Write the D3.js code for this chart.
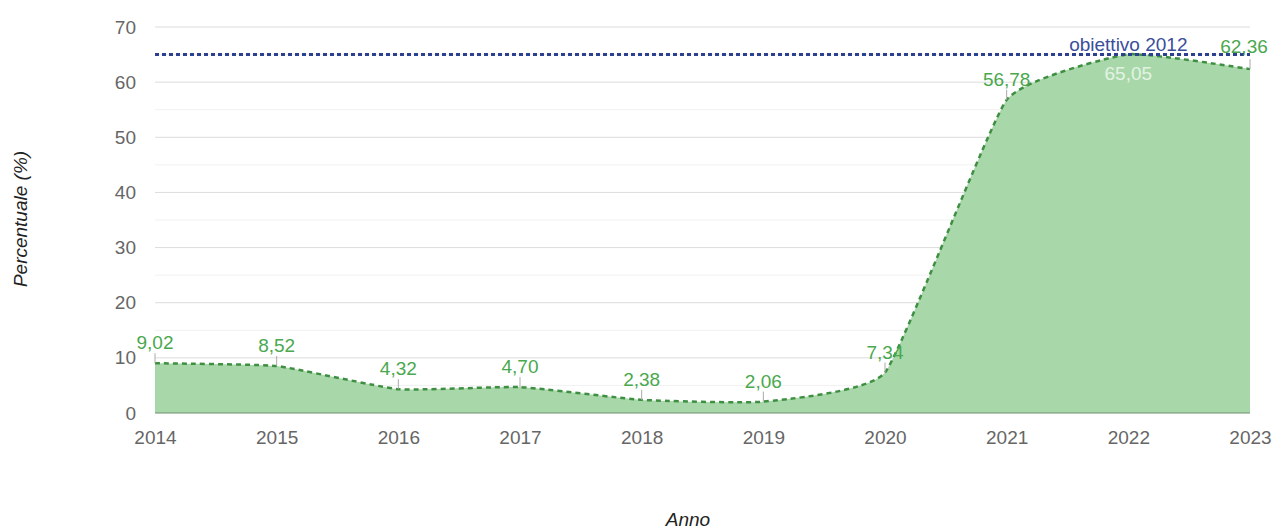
<!DOCTYPE html>
<html>
<head>
<meta charset="utf-8">
<script src="https://cdn.jsdelivr.net/npm/d3@7"></script>
<style>
  body { margin: 0; background: #fff; }
  svg { display: block; font-family: Arial, "Liberation Sans", sans-serif; }
</style>
</head>
<body>
<svg class="chart" width="1276" height="529"></svg>
<script>
// dati
var anni = [2014, 2015, 2016, 2017, 2018, 2019, 2020, 2021, 2022, 2023];
var percentuali = [9.02, 8.52, 4.32, 4.70, 2.38, 2.06, 7.34, 56.78, 65.05, 62.36];
var yTicks = [0, 10, 20, 30, 40, 50, 60, 70];
var obiettivo = 65;
var obiettivoLabel = "obiettivo 2012";

var svg = d3.select(".chart");

var plotLeft = 155, plotRight = 1250, plotTop = 27, plotBottom = 413;
var fontSize = "19px";

var x = d3.scaleLinear().domain([2014, 2023]).range([plotLeft, plotRight]);
var y = d3.scaleLinear().domain([0, 70]).range([plotBottom, plotTop]);

var fmt = function (v) { return v.toFixed(2).replace(".", ","); };

// griglia minore
svg.append("g")
    .selectAll("line")
    .data(d3.range(5, 70, 10))
    .join("line")
    .attr("x1", plotLeft).attr("x2", plotRight)
    .attr("y1", function (d) { return y(d); })
    .attr("y2", function (d) { return y(d); })
    .attr("stroke", "#f1f1f1")
    .attr("stroke-width", 1);

// griglia principale
svg.append("g")
    .selectAll("line")
    .data(yTicks.slice(1))
    .join("line")
    .attr("x1", plotLeft).attr("x2", plotRight)
    .attr("y1", function (d) { return y(d); })
    .attr("y2", function (d) { return y(d); })
    .attr("stroke", "#dcdcdc")
    .attr("stroke-width", 1);

// asse y
var yAxis = svg.append("g")
    .attr("transform", "translate(" + plotLeft + ",0)")
    .call(d3.axisLeft(y).tickValues(yTicks).tickSize(0).tickPadding(19));
yAxis.select(".domain").remove();
yAxis.selectAll("text")
    .attr("font-size", fontSize)
    .attr("font-family", "Arial, 'Liberation Sans', sans-serif")
    .attr("fill", "#666");

// asse x
var xAxis = svg.append("g")
    .attr("transform", "translate(0," + plotBottom + ")")
    .call(d3.axisBottom(x).tickValues(anni).tickFormat(d3.format("d")).tickSize(0).tickPadding(18));
xAxis.select(".domain").remove();
xAxis.selectAll("text")
    .attr("font-size", fontSize)
    .attr("font-family", "Arial, 'Liberation Sans', sans-serif")
    .attr("fill", "#666");

var curve = d3.curveCardinal.tension(0.6);

// area
svg.append("path")
    .datum(percentuali)
    .attr("d", d3.area()
        .x(function (d, i) { return x(anni[i]); })
        .y0(y(0))
        .y1(function (d) { return y(d); })
        .curve(curve))
    .attr("fill", "#a8d8a9");

// linea tratteggiata
svg.append("path")
    .datum(percentuali)
    .attr("d", d3.line()
        .x(function (d, i) { return x(anni[i]); })
        .y(function (d) { return y(d); })
        .curve(curve))
    .attr("fill", "none")
    .attr("stroke", "#3f8f43")
    .attr("stroke-width", 2.5)
    .attr("stroke-dasharray", "5,4");

// linea di base
svg.append("line")
    .attr("x1", plotLeft).attr("x2", plotRight)
    .attr("y1", y(0)).attr("y2", y(0))
    .attr("stroke", "#6f8f6f")
    .attr("stroke-width", 1);

// obiettivo
svg.append("line")
    .attr("x1", plotLeft).attr("x2", plotRight)
    .attr("y1", y(obiettivo)).attr("y2", y(obiettivo))
    .attr("stroke", "#2d3f8f")
    .attr("stroke-width", 3)
    .attr("stroke-dasharray", "4,3");

svg.append("text")
    .attr("x", x(2022))
    .attr("y", y(obiettivo) - 4)
    .attr("text-anchor", "middle")
    .attr("font-size", fontSize)
    .attr("fill", "#3a4e9a")
    .text(obiettivoLabel);

// etichette valori
var labels = svg.append("g");
percentuali.forEach(function (v, i) {
    var px = x(anni[i]), py = y(v);
    var inside = i === 8;
    var last = i === anni.length - 1;
    if (!inside) {
        labels.append("line")
            .attr("x1", px).attr("x2", px)
            .attr("y1", py).attr("y2", py - 10)
            .attr("stroke", "#aaa")
            .attr("stroke-width", 1);
    }
    labels.append("text")
        .attr("x", last ? px - 6 : px)
        .attr("y", inside ? py + 26 : (last ? py - 16 : py - 14))
        .attr("text-anchor", "middle")
        .attr("font-size", fontSize)
        .attr("fill", inside ? "#e3f3e3" : "#4aa84e")
        .text(fmt(v));
});

// titoli assi
svg.append("text")
    .attr("transform", "translate(27,219) rotate(-90)")
    .attr("text-anchor", "middle")
    .attr("font-size", fontSize)
    .attr("font-style", "italic")
    .attr("fill", "#222")
    .text("Percentuale (%)");

svg.append("text")
    .attr("x", 688)
    .attr("y", 526)
    .attr("text-anchor", "middle")
    .attr("font-size", fontSize)
    .attr("font-style", "italic")
    .attr("fill", "#222")
    .text("Anno");
</script>
</body>
</html>
